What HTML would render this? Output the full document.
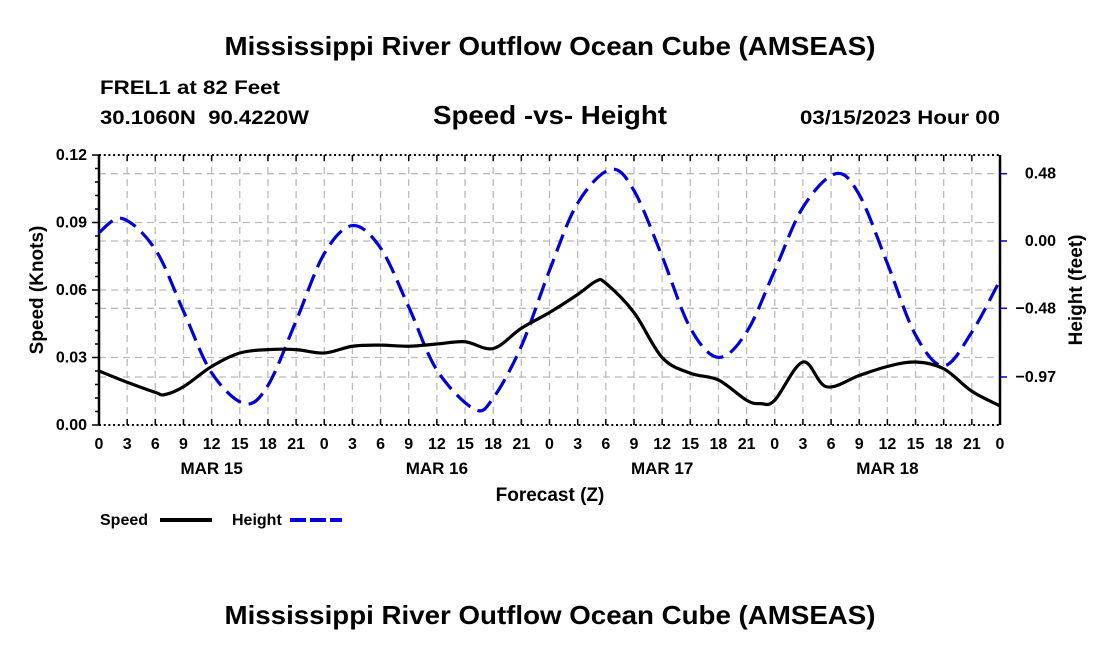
<!DOCTYPE html>
<html><head><meta charset="utf-8"><style>
body{margin:0;background:#fff;width:1100px;height:650px;overflow:hidden}
svg text{font-family:"Liberation Sans",Arial,sans-serif;font-weight:bold;fill:#000}
</style></head><body>
<svg id="chart" width="1100" height="650" xmlns="http://www.w3.org/2000/svg">
<text x="550" y="55" font-size="26" text-anchor="middle" textLength="651" lengthAdjust="spacingAndGlyphs">Mississippi River Outflow Ocean Cube (AMSEAS)</text>
<text x="100" y="94" font-size="19" textLength="180" lengthAdjust="spacingAndGlyphs">FREL1 at 82 Feet</text>
<text x="100" y="124" font-size="19" textLength="209" lengthAdjust="spacingAndGlyphs">30.1060N&#160;&#160;90.4220W</text>
<text x="550" y="124" font-size="26" text-anchor="middle" textLength="234" lengthAdjust="spacingAndGlyphs">Speed -vs- Height</text>
<text x="1000" y="124" font-size="19" text-anchor="end" textLength="200" lengthAdjust="spacingAndGlyphs">03/15/2023 Hour 00</text>
<g id="grid"></g>
<g id="axes"></g>
<g id="series"></g>
<text transform="translate(43,290) rotate(-90)" font-size="19" text-anchor="middle">Speed (Knots)</text>
<text transform="translate(1082,290) rotate(-90)" font-size="19" text-anchor="middle">Height (feet)</text>
<text x="550" y="501" font-size="19" text-anchor="middle">Forecast (Z)</text>
<g>
<text x="100" y="525" font-size="16">Speed</text>
<line x1="160" y1="520" x2="212" y2="520" stroke="#000" stroke-width="4"/>
<text x="232" y="525" font-size="16">Height</text>
<line x1="290" y1="520" x2="342" y2="520" stroke="#0000dd" stroke-width="4" stroke-dasharray="16,4"/>
</g>
<text x="550" y="624" font-size="26" text-anchor="middle" textLength="651" lengthAdjust="spacingAndGlyphs">Mississippi River Outflow Ocean Cube (AMSEAS)</text>
</svg>
<script>
const speedHours=[0,3,6,7,9,12,15,18,21,24,27,30,33,36,39,42,45,48,51,53,54,57,60,63,66,69,70.5,72,75,77.5,81,84,87,90,93,96];
const speedValues=[0.024,0.019,0.0145,0.0135,0.017,0.026,0.032,0.0335,0.0335,0.032,0.035,0.0355,0.035,0.036,0.037,0.034,0.043,0.050,0.058,0.064,0.063,0.050,0.030,0.023,0.020,0.011,0.0095,0.011,0.028,0.017,0.022,0.026,0.028,0.025,0.015,0.0085];
const heightHours=[0,2.5,6,9,12,15.5,18,21,24,27,30,33,36,40,42,45,48,51,54.5,57,60,63,66,69,72,75,78.5,81,84,87,90,93,96];
const heightValues=[0.06,0.16,-0.06,-0.5,-0.94,-1.16,-1.03,-0.57,-0.09,0.11,-0.05,-0.47,-0.92,-1.2,-1.12,-0.75,-0.21,0.27,0.51,0.36,-0.11,-0.62,-0.83,-0.65,-0.21,0.24,0.48,0.33,-0.16,-0.67,-0.89,-0.65,-0.28];
const speedTicks=[0,0.03,0.06,0.09,0.12];
const speedTickLabels=["0.00","0.03","0.06","0.09","0.12"];
const heightTicks=[0.48,0,-0.48,-0.97];
const heightTickLabels=["0.48","0.00","\u22120.48","\u22120.97"];
const dayLabels=["MAR 15","MAR 16","MAR 17","MAR 18"];
const L=99,R=1000,T=155,B=425;
const xS=h=>L+h/96*(R-L);
const yS=v=>B-v/0.12*(B-T);
const yH=f=>241-f/0.48*67.3;
const NS="http://www.w3.org/2000/svg";
function mk(parent,tag,attrs){const e=document.createElementNS(NS,tag);for(const k in attrs)e.setAttribute(k,attrs[k]);document.getElementById(parent).appendChild(e);return e;}
for(let h=3;h<96;h+=3){const g=mk('grid','line',{x1:xS(h),x2:xS(h),y1:T,y2:B,stroke:'#bbb','stroke-width':1.3,'stroke-dasharray':'7,5'});

}
speedTicks.slice(1,4).forEach(v=>{const g=mk('grid','line',{x1:L,x2:R,y1:yS(v),y2:yS(v),stroke:'#bbb','stroke-width':1.3,'stroke-dasharray':'7,5'});

});
heightTicks.forEach(v=>{const g=mk('grid','line',{x1:L,x2:R,y1:yH(v),y2:yH(v),stroke:'#bbb','stroke-width':1.3,'stroke-dasharray':'7,5'});

});
let a=mk('axes','line',{x1:L,x2:L,y1:T,y2:B,stroke:'#000','stroke-width':2.5});
a=mk('axes','line',{x1:R,x2:R,y1:T,y2:B,stroke:'#000','stroke-width':2.5});
a=mk('axes','line',{x1:L,x2:R,y1:T,y2:T,stroke:'#000','stroke-width':2,'stroke-dasharray':'2,2.7'});
a=mk('axes','line',{x1:L,x2:R,y1:B,y2:B,stroke:'#000','stroke-width':2,'stroke-dasharray':'2,2.7'});
for(let h=0;h<=96;h+=3){
 let t=mk('axes','line',{x1:xS(h),x2:xS(h),y1:B,y2:B-6,stroke:'#000','stroke-width':1.5});
 t=mk('axes','line',{x1:xS(h),x2:xS(h),y1:T,y2:T+6,stroke:'#000','stroke-width':1.5});
 const lb=mk('axes','text',{x:xS(h),y:449,'font-size':16,'text-anchor':'middle'});lb.textContent=String(h%24);
 }
dayLabels.forEach((d,i)=>{const t=mk('axes','text',{x:xS(i*24+12),y:474,'font-size':17,'text-anchor':'middle'});t.textContent=d;
});
for(let v=0;v<=0.12001;v+=0.006){const t=mk('axes','line',{x1:L,x2:L-(Math.abs(v/0.03-Math.round(v/0.03))<1e-6?7:4),y1:yS(v),y2:yS(v),stroke:'#000','stroke-width':1.5});
}
speedTicks.forEach((v,i)=>{const t=mk('axes','text',{x:L-12,y:yS(v)+5,'font-size':16,'text-anchor':'end'});t.textContent=speedTickLabels[i];
});
heightTicks.forEach((v,i)=>{let t=mk('axes','line',{x1:R,x2:R+7,y1:yH(v),y2:yH(v),stroke:'#0000cc','stroke-width':1.5});

t=mk('axes','text',{x:1056,y:yH(v)+5,'font-size':16,'text-anchor':'end'});t.textContent=heightTickLabels[i];
});
function path(xs,ys){const p=xs.map((x,i)=>[x,ys[i]]);let d='M'+p[0][0]+','+p[0][1];
for(let i=0;i<p.length-1;i++){const p0=p[i-1]||p[i],p1=p[i],p2=p[i+1],p3=p[i+2]||p[i+1];
const c1=[p1[0]+(p2[0]-p0[0])/6,p1[1]+(p2[1]-p0[1])/6],c2=[p2[0]-(p3[0]-p1[0])/6,p2[1]-(p3[1]-p1[1])/6];
d+=' C'+c1[0]+','+c1[1]+' '+c2[0]+','+c2[1]+' '+p2[0]+','+p2[1];}return d;}
let s=mk('series','path',{d:path(heightHours.map(xS),heightValues.map(yH)),fill:'none',stroke:'#0000dd','stroke-width':3.2,'stroke-dasharray':'18,8'});

s=mk('series','path',{d:path(speedHours.map(xS),speedValues.map(yS)),fill:'none',stroke:'#000','stroke-width':3.2});

</script>
</body></html>
